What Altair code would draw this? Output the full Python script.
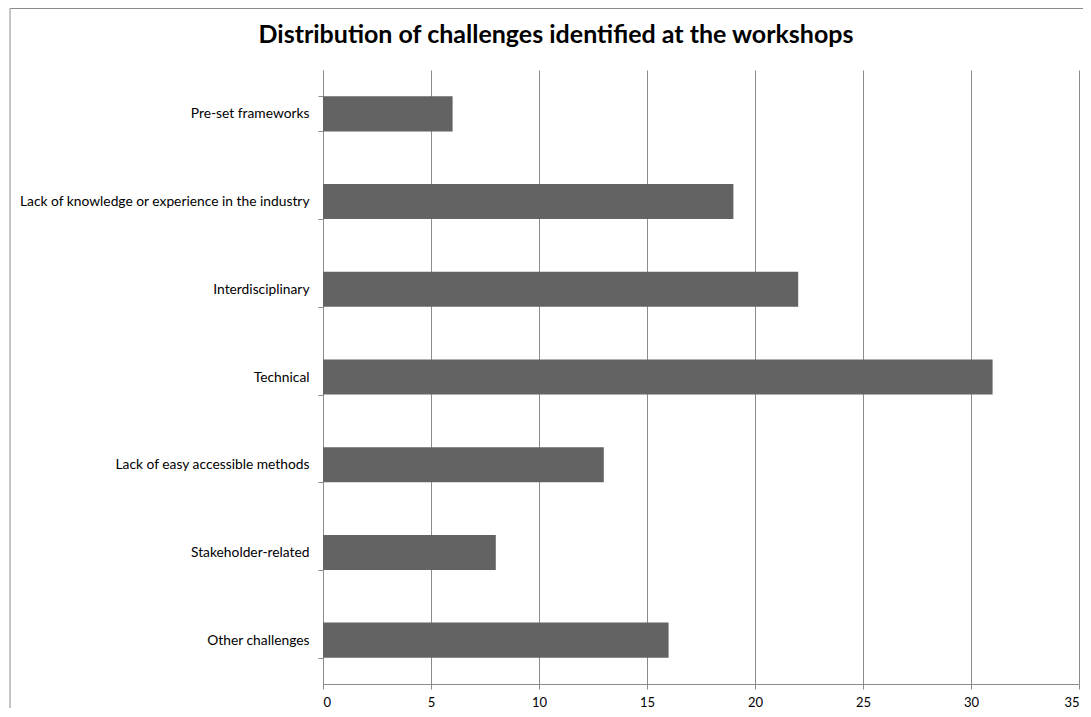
import altair as alt
import pandas as pd

categories = [
    "Pre-set frameworks",
    "Lack of knowledge or experience in the industry",
    "Interdisciplinary ",
    "Technical",
    "Lack of easy accessible methods",
    "Stakeholder-related",
    "Other challenges",
]
values = [6, 19, 22, 31, 13, 8, 16]
x_ticks = [0, 5, 10, 15, 20, 25, 30, 35]
title_text = ["Distribution of challenges identified at the workshops"]

df = pd.DataFrame({"category": categories, "value": values})

FONT = "Lato"
GRAY = "#8c8c8c"

bars = alt.Chart(df).mark_bar(color="#636363").encode(
    x=alt.X(
        "value:Q",
        scale=alt.Scale(domain=[0, 35], nice=False, zero=True),
        axis=alt.Axis(
            values=x_ticks,
            title=None,
            grid=True,
            gridColor=GRAY,
            gridWidth=1,
            domainColor=GRAY,
            tickColor=GRAY,
            tickSize=5,
            labelFont=FONT,
            labelFontSize=13,
            labelColor="#000000",
            labelPadding=7,
        ),
    ),
    y=alt.Y(
        "category:N",
        sort=None,
        scale=alt.Scale(paddingInner=0.6, paddingOuter=0.3),
        axis=alt.Axis(
            title=None,
            tickBand="extent",
            domainColor=GRAY,
            tickColor=GRAY,
            tickSize=5,
            labelFont=FONT,
            labelFontSize=13.8,
            labelColor="#000000",
            labelPadding=9,
            labelLimit=400,
        ),
    ),
)

one = alt.Data(values=[{"a": 1}])
border_top = alt.Chart(one).mark_rule(color=GRAY, strokeWidth=1).encode(
    x=alt.value(-313), x2=alt.value(800), y=alt.value(-61.5)
)
border_left = alt.Chart(one).mark_rule(color=GRAY, strokeWidth=1).encode(
    x=alt.value(-313), y=alt.value(-61.5), y2=alt.value(700)
)

title = alt.Chart(pd.DataFrame({"t": title_text})).mark_text(
    font=FONT, fontSize=25, fontWeight="bold", color="#000000",
    align="center", baseline="alphabetic",
).encode(text="t:N", x=alt.value(233), y=alt.value(-27))

chart = alt.layer(border_top, border_left, bars, title).properties(
    width=756,
    height=614,
    padding={"left": 315, "top": 62, "right": 4, "bottom": 24},
    autosize=alt.AutoSizeParams(type="none"),
).configure_view(stroke=None)

chart.save("out.html", embed_options={"renderer": "svg", "actions": False})
